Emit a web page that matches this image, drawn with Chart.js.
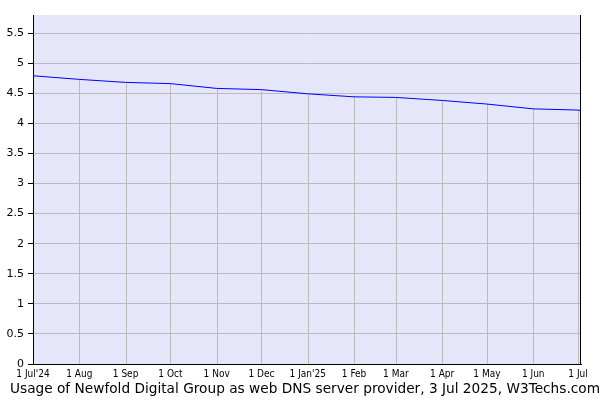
<!DOCTYPE html>
<html><head><meta charset="utf-8">
<script src="https://cdn.jsdelivr.net/npm/chart.js@4/dist/chart.umd.min.js"></script>
<style>html,body{margin:0;padding:0;background:#fff}#wrap{width:600px;height:400px}</style>
</head><body><div id="wrap"><canvas id="c" width="600" height="400"></canvas></div>
<script>
const pointDates = ['2024-07-01','2024-08-01','2024-09-01','2024-10-01','2024-11-01','2024-12-01','2025-01-01','2025-02-01','2025-03-01','2025-04-01','2025-05-01','2025-06-01','2025-07-01','2025-07-03'];
const usageValues = [4.79,4.73,4.68,4.66,4.58,4.56,4.49,4.44,4.43,4.38,4.32,4.24,4.22,4.21];
const tickDates = ['2024-07-01','2024-08-01','2024-09-01','2024-10-01','2024-11-01','2024-12-01','2025-01-01','2025-02-01','2025-03-01','2025-04-01','2025-05-01','2025-06-01','2025-07-01'];
const xTickLabels = ["1 Jul'24","1 Aug","1 Sep","1 Oct","1 Nov","1 Dec","1 Jan'25","1 Feb","1 Mar","1 Apr","1 May","1 Jun","1 Jul"];
const yTicks = [0,0.5,1,1.5,2,2.5,3,3.5,4,4.5,5,5.5];
const yMax = 5.8;
const titleText = 'Usage of Newfold Digital Group as web DNS server provider, 3 Jul 2025, W3Techs.com';

const t0 = Date.parse('2024-07-01T00:00:00Z');
const dayOf = s => (Date.parse(s + 'T00:00:00Z') - t0) / 86400000;
const pts = pointDates.map((d, i) => ({x: dayOf(d), y: usageValues[i]}));
const tickDays = tickDates.map(dayOf);

const bgPlugin = {
  id: 'bg',
  beforeDraw(chart) {
    const {ctx, chartArea: a} = chart;
    ctx.save(); ctx.fillStyle = '#e6e6fa';
    ctx.fillRect(a.left, a.top, a.right - a.left, a.bottom - a.top);
    ctx.restore();
  },
  beforeDatasetsDraw(chart) {
    const {ctx, chartArea: a} = chart;
    const meta = chart.getDatasetMeta(0);
    ctx.save(); ctx.strokeStyle = '#bbbbbb'; ctx.lineWidth = 1;
    meta.data.forEach((p, i) => {
      if (i === 0 || i === meta.data.length - 1) return;
      const x = Math.round(p.x) + 0.5;
      ctx.beginPath(); ctx.moveTo(x, p.y); ctx.lineTo(x, a.bottom); ctx.stroke();
    });
    ctx.restore();
  },
  afterDraw(chart) {
    const {ctx, chartArea: a} = chart;
    ctx.save(); ctx.strokeStyle = '#000'; ctx.lineWidth = 1;
    ctx.beginPath(); ctx.moveTo(Math.round(a.right) - 0.5, a.top); ctx.lineTo(Math.round(a.right) - 0.5, a.bottom); ctx.stroke();
    ctx.fillStyle = '#000';
    ctx.font = '13.7px "DejaVu Sans"';
    ctx.textAlign = 'center'; ctx.textBaseline = 'alphabetic';
    ctx.fillText(titleText, 305, 393);
    ctx.restore();
  }
};

new Chart(document.getElementById('c'), {
  type: 'line',
  data: { datasets: [{ data: pts, borderColor: '#0000ff', borderWidth: 1, pointRadius: 0, tension: 0, fill: false }] },
  options: {
    responsive: false, animation: false,
    layout: { padding: { top: 15, right: 19, left: 0, bottom: 19 } },
    plugins: {
      legend: { display: false }, tooltip: { enabled: false }, title: { display: false }
    },
    scales: {
      x: {
        type: 'linear', min: 0, max: dayOf('2025-07-03'),
        afterBuildTicks: s => { s.ticks = tickDays.map(v => ({value: v})); },
        afterFit: s => { s.height = 17; },
        grid: { display: false, drawTicks: false },
        border: { display: true, color: '#000', width: 1 },
        ticks: { autoSkip: false, maxRotation: 0, padding: 4, color: '#000',
          font: { family: 'DejaVu Sans Condensed', size: 10 },
          callback: (v, i) => xTickLabels[i] }
      },
      y: {
        min: 0, max: yMax,
        afterBuildTicks: s => { s.ticks = yTicks.map(v => ({value: v})); },
        afterFit: s => { s.width = 33; },
        grid: { color: '#bbbbbb', tickColor: '#000', tickLength: 5, drawTicks: true },
        border: { display: true, color: '#000', width: 1 },
        ticks: { padding: 4, color: '#000', font: { family: 'DejaVu Sans', size: 11 },
          callback: v => String(v) }
      }
    }
  },
  plugins: [bgPlugin]
});
</script></body></html>
